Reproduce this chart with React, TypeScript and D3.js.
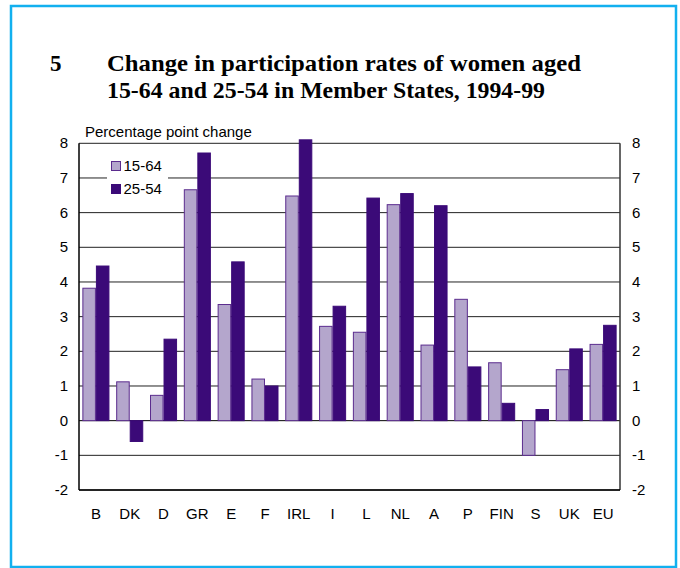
import React from "react";
import * as d3 from "d3";

const categories = ["B", "DK", "D", "GR", "E", "F", "IRL", "I", "L", "NL", "A", "P", "FIN", "S", "UK", "EU"];
const series1564 = [3.82, 1.12, 0.73, 6.66, 3.35, 1.2, 6.48, 2.72, 2.55, 6.23, 2.18, 3.5, 1.67, -1.0, 1.47, 2.2];
const series2554 = [4.46, -0.6, 2.35, 7.72, 4.58, 1.0, 8.1, 3.3, 6.42, 6.55, 6.2, 1.55, 0.5, 0.32, 2.07, 2.75];
const yTicks = [-2, -1, 0, 1, 2, 3, 4, 5, 6, 7, 8];
const seriesNames = ["15-64", "25-54"];

const W = 680;
const H = 568;
const left = 79;
const right = 620;
const top = 143.3;
const bottom = 490;

export default function App() {
  const x = d3.scaleBand<string>().domain(categories).range([left, right]).paddingInner(0.2).paddingOuter(0.1);
  const y = d3.scaleLinear().domain([-2, 8]).range([bottom, top]);
  const sub = d3.scaleBand<string>().domain(seriesNames).range([0, x.bandwidth()]);
  const light = "#b4a6cc";
  const lightStroke = "#5b2c8e";
  const dark = "#3b0a78";
  const sans = "'Liberation Sans', Arial, sans-serif";
  const serif = "'Liberation Serif', 'Times New Roman', serif";
  const all = [series1564, series2554];
  return (
    <svg width={W} height={H} style={{ position: "absolute", left: 0, top: 0 }}>
      <rect x={0} y={0} width={W} height={H} fill="#fff" />
      <rect x={11} y={6} width={665} height={561} fill="none" stroke="#12b0ef" strokeWidth={2.5} />
      <text x={50} y={71} fontFamily={serif} fontWeight="bold" fontSize={23} fill="#000">5</text>
      <text x={107} y={71} fontFamily={serif} fontWeight="bold" fontSize={23} fill="#000"
        textLength={474} lengthAdjust="spacingAndGlyphs">
        Change in participation rates of women aged
      </text>
      <text x={107} y={98} fontFamily={serif} fontWeight="bold" fontSize={23} fill="#000"
        textLength={438} lengthAdjust="spacingAndGlyphs">
        15-64 and 25-54 in Member States, 1994-99
      </text>
      <text x={85} y={137} fontFamily={sans} fontSize={15} fill="#000">Percentage point change</text>
      {yTicks.map((t) => (
        <line key={"g" + t} x1={left} x2={right} y1={y(t)} y2={y(t)} stroke={t === 0 ? "#000" : "#222"} strokeWidth={1} />
      ))}
      {yTicks.map((t) => (
        <g key={"t" + t}>
          <text x={68} y={y(t) + 5} textAnchor="end" fontFamily={sans} fontSize={15} fill="#000">{t}</text>
          <text x={632} y={y(t) + 5} textAnchor="start" fontFamily={sans} fontSize={15} fill="#000">{t}</text>
        </g>
      ))}
      {/* legend box */}
      <rect x={107} y={153} width={61} height={47} fill="#fff" />
      <rect x={111.5} y={161.5} width={9} height={9} fill={light} stroke={lightStroke} strokeWidth={1} />
      <text x={123.5} y={171} fontFamily={sans} fontSize={15} fill="#000">{seriesNames[0]}</text>
      <rect x={111.5} y={184.5} width={9} height={9} fill={dark} stroke={dark} strokeWidth={1} />
      <text x={123.5} y={194} fontFamily={sans} fontSize={15} fill="#000">{seriesNames[1]}</text>
      {categories.map((c, i) => (
        <g key={c}>
          {all.map((s, j) => {
            const v = s[i];
            const x0 = (x(c) as number) + (sub(seriesNames[j]) as number);
            const y0 = y(Math.max(0, v));
            const h = Math.abs(y(v) - y(0));
            return (
              <rect key={j} x={x0 + 0.5} y={y0} width={sub.bandwidth() - 1} height={h}
                fill={j === 0 ? light : dark} stroke={j === 0 ? lightStroke : dark} strokeWidth={1} />
            );
          })}
          <text x={(x(c) as number) + x.bandwidth() / 2} y={519} textAnchor="middle" fontFamily={sans} fontSize={15} fill="#000">{c}</text>
        </g>
      ))}
      <line x1={left} x2={left} y1={top} y2={bottom} stroke="#000" strokeWidth={1.5} />
      <line x1={right} x2={right} y1={top} y2={bottom} stroke="#333" strokeWidth={1.5} />
      <line x1={left} x2={right} y1={bottom} y2={bottom} stroke="#000" strokeWidth={1.5} />
    </svg>
  );
}
